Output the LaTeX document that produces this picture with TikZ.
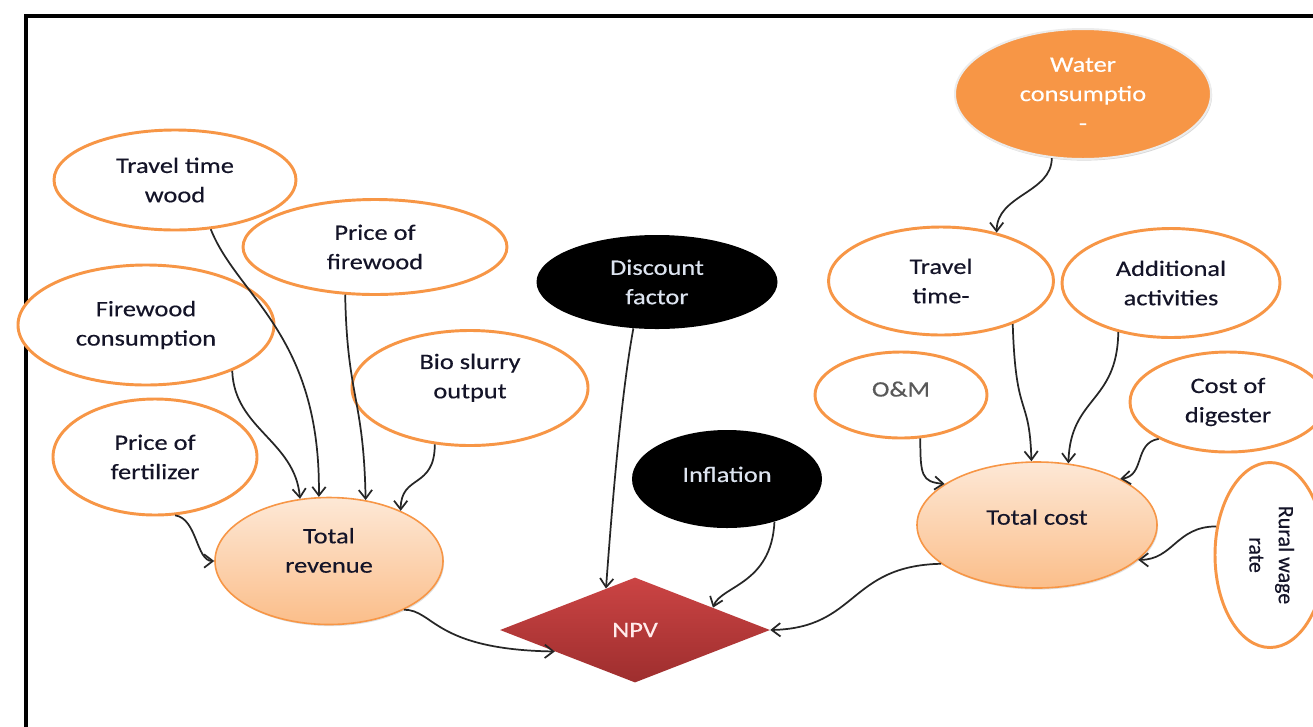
\documentclass[tikz,border=0pt]{standalone}
\usepackage{fontspec}
\setmainfont{Carlito}[FakeStretch=1.2,FakeBold=0.4]
\newfontfamily\plainfont{Carlito}[FakeBold=0.4]
\usetikzlibrary{shapes.geometric,arrows.meta,shadows}
\definecolor{orng}{HTML}{F79646}
\definecolor{totA}{HTML}{FDE8D6}
\definecolor{totB}{HTML}{FBBE8A}
\definecolor{npvA}{HTML}{CB4444}
\definecolor{npvB}{HTML}{9E2E2E}
\definecolor{lightt}{HTML}{DDE4F0}
\definecolor{txt}{HTML}{141428}
\begin{document}
\begin{tikzpicture}[x=0.75pt,y=0.75pt,
  every node/.style={font=\fontsize{16.5}{22}\selectfont, align=center, inner sep=0pt, text=txt},
  oval/.style={ellipse, draw=orng, line width=2.2pt, fill=white},
  tot/.style={ellipse, draw=orng, line width=1.2pt, top color=totA, bottom color=totB,
     drop shadow={opacity=0.25, shadow xshift=0.8pt, shadow yshift=-1.2pt}},
  dark/.style={ellipse, fill=black, text=lightt},
  conn/.style={draw=black!85, line width=1.3pt, -{Straight Barb[length=6.5pt,width=10pt]}},
]
\useasboundingbox (0,0) rectangle (1313,-726);
\fill[white] (0,0) rectangle (1313,-726);
% frame
\draw[line width=3.2pt] (26,-740) |- (1330,-16);

% nodes
\node[ellipse, fill=orng, draw=white!85!gray, line width=1.5pt, text=white,
  drop shadow={opacity=0.3, shadow xshift=0.8pt, shadow yshift=-1.2pt},
  minimum width=192pt, minimum height=97.5pt] (wc) at (1083,-94) {Water\\consumptio\\-};
\node[oval, minimum width=181.5pt, minimum height=75pt] (ttw) at (175,-180) {Travel time\\wood};
\node[oval, minimum width=198pt, minimum height=71.25pt] (pof) at (375,-247) {Price of\\firewood};
\node[oval, minimum width=192pt, minimum height=90pt] (fwc) at (146,-325) {Firewood\\consumption};
\node[oval, minimum width=177pt, minimum height=86.25pt, text depth=18pt] (bso) at (470,-388) {Bio slurry\\output};
\node[oval, minimum width=153pt, minimum height=87pt] (pfe) at (155,-457) {Price of\\fertilizer};
\node[tot, minimum width=171pt, minimum height=95.25pt, text depth=16pt] (tr) at (329,-561) {Total\\revenue};
\node[dark, minimum width=180.75pt, minimum height=70.5pt] (df) at (657,-282) {Discount\\factor};
\node[dark, minimum width=142.5pt, minimum height=73.5pt, text depth=7pt] (inf) at (727,-479) {Inflation};
\node[diamond, aspect=2.57, top color=npvA, bottom color=npvB, text=white!92!red,
  minimum width=202.5pt, minimum height=78.75pt] (npv) at (635,-630) {NPV};
\node[oval, minimum width=168.75pt, minimum height=81pt] (tt) at (941,-281) {Travel\\time-};
\node[oval, minimum width=163.5pt, minimum height=81.75pt] (aa) at (1171,-283) {Additional\\activities};
\node[oval, minimum width=129pt, minimum height=64.5pt, text=black!65, text depth=9pt] (om) at (901,-395) {O\&M};
\node[oval, minimum width=147pt, minimum height=75pt] (cod) at (1228,-402) {Cost of\\digester};
\node[tot, minimum width=180pt, minimum height=94.5pt, text depth=12pt] (tc) at (1037,-525) {Total cost};
\node[oval, minimum width=82.5pt, minimum height=138.75pt] (rwr) at (1270,-555)
  {\rotatebox{-90}{\plainfont\fontsize{16.5}{22}\selectfont\begin{tabular}{@{}c@{}}Rural wage\\rate\end{tabular}}};

% connectors
\draw[conn] (ttw.-54) .. controls +(27,-68) and +(2,163) .. (tr.99);
\draw[conn] (fwc.-28) .. controls +(2,-58) and +(-5,58) .. (tr.115);
\draw[conn] (pof.-122) .. controls +(2,-103) and +(-2,103) .. (tr.59);
\draw[conn] (bso.-122) .. controls +(0,-45) and +(0,37) .. (tr.35);
\draw[conn] (pfe.-71) .. controls +(22,-3) and +(-18,0) .. (tr.180);
\draw[conn] (tr.-33) .. controls +(30,0) and +(-121,2) .. (npv.-165);
\draw[conn] (df.-117) .. controls +(-13,-70) and +(5,68) .. (npv.125);
\draw[conn] (inf.-42) .. controls +(-3,-63) and +(8,22) .. (npv.16);
\draw[conn] (tc.-158) .. controls +(-93,-2) and +(88,2) .. (npv.east);
\draw[conn] (wc.-116) .. controls +(0,-35) and +(0,38) .. (tt.41);
\draw[conn] (tt.-31) .. controls +(3,-97) and +(-2,68) .. (tc.95);
\draw[conn] (aa.-137) .. controls +(-1,-71) and +(2,67) .. (tc.63);
\draw[conn] (om.-66) .. controls +(0,-37) and +(-23,2) .. (tc.156);
\draw[conn] (cod.-152) .. controls +(-25,-4) and +(25,3) .. (tc.29);
\draw[conn] (rwr.152) .. controls +(-40,0) and +(35,0) .. (tc.-19);
\end{tikzpicture}
\end{document}
